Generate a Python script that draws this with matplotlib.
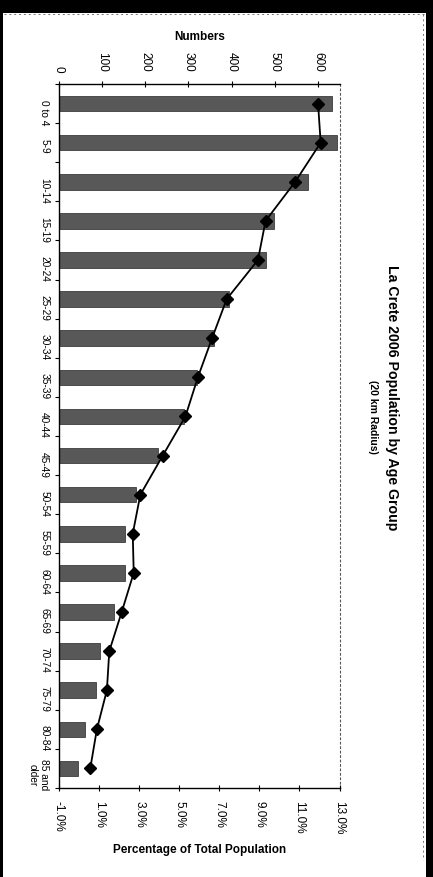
import matplotlib
matplotlib.use("Agg")
import matplotlib.pyplot as plt
from matplotlib.patches import Rectangle
from matplotlib.lines import Line2D
import numpy as np

# Age groups (top to bottom) with head counts and share of total population
age_groups = ["0 to 4", "5-9", "10-14", "15-19", "20-24", "25-29", "30-34",
              "35-39", "40-44", "45-49", "50-54", "55-59", "60-64", "65-69",
              "70-74", "75-79", "80-84", "85 and\nolder"]
population = [633, 645, 576, 499, 480, 393, 359, 320, 290, 230, 178, 153,
              154, 127, 96, 86, 61, 45]
share_pct = [11.93, 12.06, 10.79, 9.31, 8.93, 7.37, 6.64, 5.93, 5.31, 4.18,
             3.06, 2.68, 2.73, 2.13, 1.51, 1.39, 0.89, 0.56]
number_ticks = [0, 100, 200, 300, 400, 500, 600]
pct_ticks = [-1, 1, 3, 5, 7, 9, 11, 13]

W, H = 433, 877
FONT = ["Liberation Sans", "DejaVu Sans"]
plt.rcParams["font.family"] = FONT

fig = plt.figure(figsize=(W / 100, H / 100), dpi=100)
fig.patch.set_facecolor("white")


def box(x0, y0, x1, y1):
    return [x0 / W, 1 - y1 / H, (x1 - x0) / W, (y1 - y0) / H]


ax = fig.add_axes(box(59, 84, 339.5, 788))
ax2 = ax.twiny()
pos = np.arange(len(age_groups))

ax.barh(pos, population, height=0.4, color="#585858", edgecolor="#262626",
        linewidth=0.5, zorder=2)
ax.set_xlim(0, 650)
ax.set_ylim(len(age_groups) - 0.5, -0.5)

# Numbers axis along the top
ax.xaxis.tick_top()
ax.xaxis.set_label_position("top")
ax.set_xticks(number_ticks)
ax.set_xticklabels([str(v) for v in number_ticks], rotation=-90, fontsize=8.5)
ax.tick_params(axis="x", direction="inout", length=5, width=0.8, pad=6)
ax.set_xlabel("Numbers", fontsize=8.5, fontweight="bold", labelpad=9)

# Age group labels on the left, tick marks between groups
ax.set_yticks(pos)
ax.set_yticklabels(age_groups, rotation=-90, fontsize=7.3)
for lab in ax.get_yticklabels():
    lab.set_multialignment("center")
ax.set_yticks(np.arange(len(age_groups) + 1) - 0.5, minor=True)
ax.tick_params(axis="y", which="major", length=0, pad=7)
ax.tick_params(axis="y", which="minor", direction="out", length=3, width=0.8)

for side in ("top", "left"):
    ax.spines[side].set_linewidth(1.0)
ax.spines["bottom"].set_visible(False)
ax.spines["right"].set_linestyle((0, (1.5, 2.5)))
ax.spines["right"].set_color("#555555")
ax.spines["right"].set_linewidth(0.8)

# Percentage axis along the bottom
ax2.xaxis.tick_bottom()
ax2.xaxis.set_label_position("bottom")
ax2.set_xlim(-1, 13)
ax2.set_xticks(pct_ticks)
ax2.set_xticklabels([f"{v:.1f}%" for v in pct_ticks], rotation=-90, fontsize=8.5)
ax2.tick_params(axis="x", direction="inout", length=5, width=0.8, pad=7)
ax2.set_xlabel("Percentage of Total Population", fontsize=8.5,
               fontweight="bold", labelpad=7)
for side in ("top", "left", "right"):
    ax2.spines[side].set_visible(False)
ax2.spines["bottom"].set_linewidth(1.0)

ax2.plot(share_pct, pos, color="black", linewidth=1.3, marker="D",
         markersize=6.5, markerfacecolor="black", markeredgecolor="black",
         clip_on=False, zorder=3)

# Title block
fig.text(392 / W, 1 - 398 / H, "La Crete 2006 Population by Age Group",
         rotation=-90, ha="center", va="center", fontsize=10.2,
         fontweight="bold")
fig.text(373 / W, 1 - 417 / H, "(20 km Radius)", rotation=-90,
         ha="center", va="center", fontsize=7.5, fontweight="bold")

# Page edges around the chart
fig.add_artist(Line2D([4 / W, 424 / W], [1 - 14 / H, 1 - 14 / H],
                      color="#777777", linewidth=0.7, linestyle=(0, (2, 3))))
fig.add_artist(Line2D([423 / W, 423 / W], [1 - 14 / H, 1 - 860 / H],
                      color="#777777", linewidth=0.7, linestyle=(0, (2, 3))))
for x0, y0, x1, y1 in [(0, 0, W, 13), (0, 0, 3, H), (426, 0, W, H)]:
    fig.add_artist(Rectangle((x0 / W, 1 - y1 / H), (x1 - x0) / W,
                             (y1 - y0) / H, transform=fig.transFigure,
                             facecolor="black", edgecolor="none"))

fig.savefig("out.png", dpi=100, facecolor="white")
